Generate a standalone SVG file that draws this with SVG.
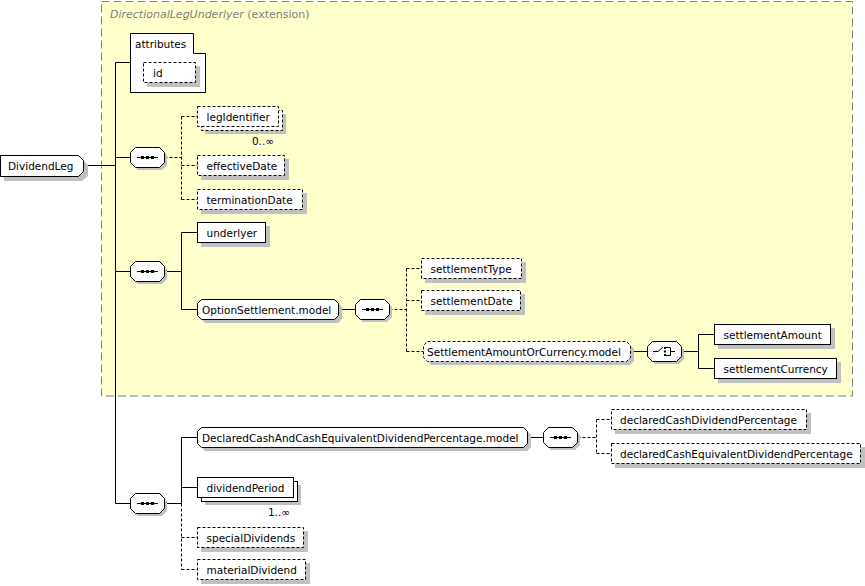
<svg xmlns="http://www.w3.org/2000/svg" xmlns:xlink="http://www.w3.org/1999/xlink" width="865" height="586" viewBox="0 0 865 586">
<style>
.n{fill:#fff;stroke:#000;stroke-width:1}
.d{stroke-dasharray:3,2}
.sh{fill:#c0c0c0;stroke:none}
.t{font-family:"DejaVu Sans",Verdana,sans-serif;font-size:10.5px;fill:#000}
.m{font-family:"DejaVu Sans",Verdana,sans-serif;font-size:10.5px;fill:#000033}
.c{fill:none;stroke:#000;stroke-width:1}
.cd{fill:none;stroke:#000;stroke-width:1;stroke-dasharray:3,2}
.ext{fill:#ffffcc;stroke:#808080;stroke-width:1;stroke-dasharray:8,4}
.ttl{font-family:"DejaVu Sans",Verdana,sans-serif;font-size:11px;fill:#808080}
</style>
<defs>
<g id="seq">
<path class="sh" d="M8,3 H32 L37,8 V18 L32,23 H8 L3,18 V8 Z"/>
<path class="n" d="M5.5,0.5 H29.5 L34.5,5.5 V15.5 L29.5,20.5 H5.5 L0.5,15.5 V5.5 Z"/>
<path class="c" d="M7,10.5 H28"/>
<rect x="11" y="9" width="3" height="3" fill="#000"/>
<rect x="16" y="9" width="3" height="3" fill="#000"/>
<rect x="21" y="9" width="3" height="3" fill="#000"/>
</g>
<g id="choice">
<path class="sh" d="M8,3 H32 L37,8 V18 L32,23 H8 L3,18 V8 Z"/>
<path class="n" d="M5.5,0.5 H29.5 L34.5,5.5 V15.5 L29.5,20.5 H5.5 L0.5,15.5 V5.5 Z"/>
<path class="c" d="M6,10.5 H11 L16,6"/>
<rect x="17" y="6" width="2" height="2" fill="#000"/>
<rect x="17" y="9.5" width="2" height="2" fill="#000"/>
<rect x="17" y="13" width="2" height="2" fill="#000"/>
<path class="c" d="M19,6.5 H23.5 V14.5 H19 M23.5,10.5 H28"/>
</g>
</defs>

<g id="extension">
<rect class="ext" x="101.5" y="1.5" width="751" height="394.5"/>
<text class="ttl" x="110" y="18"><tspan font-style="italic">DirectionalLegUnderlyer</tspan> (extension)</text>
</g>

<g id="connectors">
<path class="c" d="M83.5,165.5 H115.5 M115.5,62.5 V503.5 M115.5,62.5 H130.5 M115.5,157.5 H130.5 M115.5,271.5 H130.5 M115.5,503.5 H130.5"/>
<path class="cd" d="M164.5,157.5 H181.5 M181.5,116.5 V199.5 M181.5,116.5 H197.5 M181.5,165.5 H197.5 M181.5,199.5 H197.5"/>
<path class="c" d="M164.5,271.5 H181.5 M181.5,232.5 V309.5 M181.5,232.5 H197.5 M181.5,309.5 H197.5 M338.5,309.5 H355.5"/>
<path class="cd" d="M389.5,309.5 H406.5 M406.5,268.5 V351.5 M406.5,268.5 H421.5 M406.5,300.5 H421.5 M406.5,351.5 H423.5"/>
<path class="c" d="M630.5,351.5 H647.5 M681.5,351.5 H698.5 M698.5,334.5 V368.5 M698.5,334.5 H714.5 M698.5,368.5 H714.5"/>
<path class="c" d="M164.5,503.5 H181.5 M181.5,437.5 V503.5 M181.5,437.5 H197.5 M181.5,487.5 H197.5 M527.5,437.5 H543.5"/>
<path class="cd" d="M181.5,503.5 V569.5 M181.5,537.5 H197.5 M181.5,569.5 H197.5"/>
<path class="cd" d="M577.5,437.5 H596.5 M596.5,419.5 V453.5 M596.5,419.5 H611.5 M596.5,453.5 H611.5"/>
</g>

<g id="DividendLeg">
<path class="sh" d="M4,159 H82 L88,165 V176 L82,181 H4 Z"/>
<path class="n" d="M0.5,155.5 H78.5 L83.5,160.5 V171.5 L78.5,176.5 H0.5 Z"/>
<text class="t" x="8" y="170">DividendLeg</text>
</g>

<g id="attributes">
<path class="n" d="M130.5,33.5 H193.5 V53.5 H205.5 V92.5 H130.5 Z"/>
<text class="t" x="135" y="48">attributes</text>
</g>
<g id="id">
<rect class="sh" x="147" y="66" width="53" height="21"/>
<rect class="n d" x="143.5" y="62.5" width="52" height="20"/>
<text class="t" x="153" y="77">id</text>
</g>

<g id="seq1"><use xlink:href="#seq" x="130" y="147"/></g>

<g id="legIdentifier">
<rect class="sh" x="205" y="114" width="81" height="20"/>
<rect class="n d" x="201.5" y="110.5" width="81" height="20"/>
<rect class="n d" x="197.5" y="106.5" width="81" height="20"/>
<text class="t" x="206.5" y="121">legIdentifier</text>
<text class="m" x="274" y="145" text-anchor="end">0..∞</text>
</g>
<g id="effectiveDate">
<rect class="sh" x="201" y="159" width="88" height="21"/>
<rect class="n d" x="197.5" y="155.5" width="87" height="20"/>
<text class="t" x="206.5" y="170">effectiveDate</text>
</g>
<g id="terminationDate">
<rect class="sh" x="201" y="193" width="106" height="21"/>
<rect class="n d" x="197.5" y="189.5" width="105" height="20"/>
<text class="t" x="206.5" y="204">terminationDate</text>
</g>

<g id="seq2"><use xlink:href="#seq" x="130" y="261"/></g>

<g id="underlyer">
<rect class="sh" x="201" y="226" width="69" height="21"/>
<rect class="n" x="197.5" y="222.5" width="68" height="20"/>
<text class="t" x="206.5" y="237">underlyer</text>
</g>
<g id="OptionSettlement.model">
<path class="sh" d="M205,303 H338 L342,307 V319 L338,323 H205 L201,319 V307 Z"/>
<path class="n" d="M201.5,299.5 H334.5 L338.5,303.5 V315.5 L334.5,319.5 H201.5 L197.5,315.5 V303.5 Z"/>
<text class="t" x="202" y="314">OptionSettlement.model</text>
</g>

<g id="seq3"><use xlink:href="#seq" x="355" y="299"/></g>

<g id="settlementType">
<rect class="sh" x="425" y="262" width="101" height="21"/>
<rect class="n d" x="421.5" y="258.5" width="100" height="20"/>
<text class="t" x="430.5" y="273">settlementType</text>
</g>
<g id="settlementDate">
<rect class="sh" x="425" y="294" width="100" height="21"/>
<rect class="n d" x="421.5" y="290.5" width="99" height="20"/>
<text class="t" x="430.5" y="305">settlementDate</text>
</g>
<g id="SettlementAmountOrCurrency.model">
<path class="sh" d="M431,345 H630 L634,349 V361 L630,365 H431 L427,361 V349 Z"/>
<path class="n d" d="M427.5,341.5 H626.5 L630.5,345.5 V357.5 L626.5,361.5 H427.5 L423.5,357.5 V345.5 Z"/>
<text class="t" x="427" y="356">SettlementAmountOrCurrency.model</text>
</g>

<g id="choice1"><use xlink:href="#choice" x="647" y="341"/></g>

<g id="settlementAmount">
<rect class="sh" x="718" y="328" width="117" height="21"/>
<rect class="n" x="714.5" y="324.5" width="116" height="20"/>
<text class="t" x="723.5" y="339">settlementAmount</text>
</g>
<g id="settlementCurrency">
<rect class="sh" x="718" y="362" width="123" height="21"/>
<rect class="n" x="714.5" y="358.5" width="122" height="20"/>
<text class="t" x="723.5" y="373">settlementCurrency</text>
</g>

<g id="seq4"><use xlink:href="#seq" x="130" y="493"/></g>

<g id="DeclaredCashAndCashEquivalentDividendPercentage.model">
<path class="sh" d="M205,431 H527 L531,435 V447 L527,451 H205 L201,447 V435 Z"/>
<path class="n" d="M201.5,427.5 H523.5 L527.5,431.5 V443.5 L523.5,447.5 H201.5 L197.5,443.5 V431.5 Z"/>
<text class="t" x="202" y="442">DeclaredCashAndCashEquivalentDividendPercentage.model</text>
</g>

<g id="seq5"><use xlink:href="#seq" x="543" y="427"/></g>

<g id="declaredCashDividendPercentage">
<rect class="sh" x="615" y="413" width="196" height="21"/>
<rect class="n d" x="611.5" y="409.5" width="195" height="20"/>
<text class="t" x="620" y="424">declaredCashDividendPercentage</text>
</g>
<g id="declaredCashEquivalentDividendPercentage">
<rect class="sh" x="615" y="447" width="250" height="21"/>
<rect class="n d" x="611.5" y="443.5" width="249" height="20"/>
<text class="t" x="620" y="458">declaredCashEquivalentDividendPercentage</text>
</g>

<g id="dividendPeriod">
<rect class="sh" x="205" y="485" width="96" height="20"/>
<rect class="n" x="201.5" y="481.5" width="96" height="20"/>
<rect class="n" x="197.5" y="477.5" width="96" height="20"/>
<text class="t" x="206.5" y="492">dividendPeriod</text>
<text class="m" x="290" y="516" text-anchor="end">1..∞</text>
</g>
<g id="specialDividends">
<rect class="sh" x="201" y="531" width="107" height="21"/>
<rect class="n d" x="197.5" y="527.5" width="106" height="20"/>
<text class="t" x="206.5" y="542">specialDividends</text>
</g>
<g id="materialDividend">
<rect class="sh" x="201" y="563" width="109" height="21"/>
<rect class="n d" x="197.5" y="559.5" width="108" height="20"/>
<text class="t" x="206.5" y="574">materialDividend</text>
</g>
</svg>
